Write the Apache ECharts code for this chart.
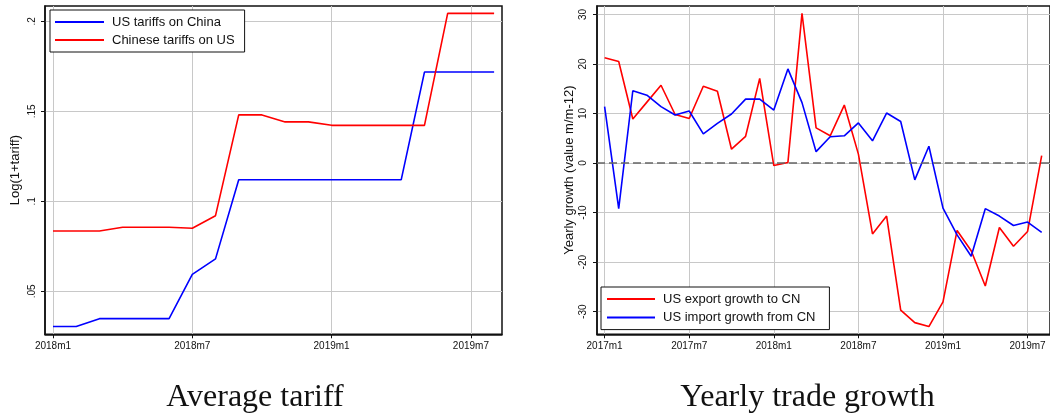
<!DOCTYPE html>
<html><head><meta charset="utf-8">
<script src="https://cdn.jsdelivr.net/npm/echarts@6/dist/echarts.min.js"></script>
<style>html,body{margin:0;padding:0;background:#fff}#c{width:1050px;height:419px}</style>
</head><body><div id="c"></div>
<script>
// ---------- data ----------
const tariffMonths = ['2018m1','2018m2','2018m3','2018m4','2018m5','2018m6','2018m7','2018m8','2018m9','2018m10','2018m11','2018m12','2019m1','2019m2','2019m3','2019m4','2019m5','2019m6','2019m7','2019m8'];
const usTariffsOnChina = [0.0304,0.0304,0.0348,0.0348,0.0348,0.0348,0.0594,0.068,0.112,0.112,0.112,0.112,0.112,0.112,0.112,0.112,0.1718,0.1718,0.1718,0.1718];
const chineseTariffsOnUS = [0.0835,0.0835,0.0835,0.0856,0.0856,0.0856,0.085,0.092,0.148,0.148,0.1441,0.1441,0.1422,0.1422,0.1422,0.1422,0.1422,0.2044,0.2044,0.2044];
const tariffXTicks = ['2018m1','2018m7','2019m1','2019m7'];
const tariffYTicks = [0.05,0.1,0.15,0.2];
const tariffYTickLabels = ['.05','.1','.15','.2'];

const tradeMonths = ['2017m1','2017m2','2017m3','2017m4','2017m5','2017m6','2017m7','2017m8','2017m9','2017m10','2017m11','2017m12','2018m1','2018m2','2018m3','2018m4','2018m5','2018m6','2018m7','2018m8','2018m9','2018m10','2018m11','2018m12','2019m1','2019m2','2019m3','2019m4','2019m5','2019m6','2019m7','2019m8'];
const usExportGrowth = [21.25,20.5,8.9,12.3,15.7,9.8,9.0,15.5,14.5,2.8,5.4,17.1,-0.5,0.1,30.2,7.1,5.5,11.7,1.8,-14.3,-10.7,-29.7,-32.2,-33.0,-28.0,-13.6,-17.7,-24.8,-13.0,-16.8,-13.8,1.5];
const usImportGrowth = [11.4,-9.2,14.6,13.7,11.4,9.7,10.5,5.9,8.0,9.9,12.9,12.9,10.7,19.0,12.2,2.3,5.3,5.5,8.1,4.5,10.1,8.4,-3.4,3.4,-9.1,-14.5,-18.8,-9.2,-10.7,-12.6,-11.9,-14.0];
const tradeXTicks = ['2017m1','2017m7','2018m1','2018m7','2019m1','2019m7'];
const tradeYTicks = [-30,-20,-10,0,10,20,30];
const tradeYTickLabels = ['-30','-20','-10','0','10','20','30'];

const titles = ['Average tariff','Yearly trade growth'];
// ---------- chart ----------
const SANS = 'Liberation Sans, Arial, sans-serif';
function xAxisFor(gi, months, ticks, min, max){
  const tv = ticks.map(t => months.indexOf(t));
  return {type:'value', gridIndex:gi, min, max,
    axisLine:{show:true, onZero:false, lineStyle:{color:'#111', width:1.5}},
    axisTick:{show:true, customValues:tv, length:4, lineStyle:{color:'#111'}},
    axisLabel:{customValues:tv, formatter:v => months[Math.round(v)], fontSize:10, color:'#111', margin:7, fontFamily:SANS},
    splitLine:{show:true, lineStyle:{color:'#c8c8c8', width:1}}};
}
function yAxisFor(gi, ticks, labels, min, max, name, gap, margin){
  return {type:'value', gridIndex:gi, min, max, name, nameLocation:'middle', nameGap:gap,
    nameTextStyle:{fontSize:13, color:'#111', fontFamily:SANS},
    axisLine:{show:true, onZero:false, lineStyle:{color:'#111', width:1.5}},
    axisTick:{show:true, customValues:ticks, length:4, lineStyle:{color:'#111'}},
    axisLabel:{customValues:ticks, rotate:90, formatter:v => labels[ticks.findIndex(t => Math.abs(t - v) < 1e-9)], fontSize:10, color:'#111', margin, fontFamily:SANS},
    splitLine:{show:true, lineStyle:{color:'#c8c8c8', width:1}}};
}
function lineSeries(name, xi, yi, months, vals, color, extra){
  return Object.assign({type:'line', name, xAxisIndex:xi, yAxisIndex:yi, symbol:'none',
    data: vals.map((v,i) => [i, v]), lineStyle:{color, width:1.6}, itemStyle:{color}}, extra || {});
}
const chart = echarts.init(document.getElementById('c'), null, {renderer:'canvas'});
chart.setOption({
  animation:false,
  backgroundColor:'#fff',
  grid:[
    {left:45, top:6, right:548, bottom:84.7, show:true, borderColor:'#111', borderWidth:1.5},
    {left:597, top:6, right:-5, bottom:84.7, show:true, borderColor:'#111', borderWidth:1.5}
  ],
  xAxis:[
    xAxisFor(0, tariffMonths, tariffXTicks, -0.3445, 19.34),
    xAxisFor(1, tradeMonths, tradeXTicks, -0.54, 31.59)
  ],
  yAxis:[
    yAxisFor(0, tariffYTicks, tariffYTickLabels, 0.0261, 0.2085, 'Log(1+tariff)', 23, 8),
    yAxisFor(1, tradeYTicks, tradeYTickLabels, -34.56, 31.7, 'Yearly growth (value m/m-12)', 21, 9)
  ],
  legend:[
    {data:['US tariffs on China','Chinese tariffs on US'], orient:'vertical', left:50, top:10, padding:[5.5,10,5.5,5], itemGap:5,
     itemWidth:49, itemHeight:2, icon:'rect', borderColor:'#111', borderWidth:1, backgroundColor:'#fff',
     textStyle:{fontSize:13, color:'#111', fontFamily:SANS, padding:[0,0,0,3]}},
    {data:['US export growth to CN','US import growth from CN'], orient:'vertical', left:601, top:287, padding:[5.5,14,5.5,6], itemGap:5.6,
     itemWidth:48, itemHeight:2, icon:'rect', borderColor:'#111', borderWidth:1, backgroundColor:'#fff',
     textStyle:{fontSize:13, color:'#111', fontFamily:SANS, padding:[0,0,0,3]}}
  ],
  series:[
    lineSeries('US tariffs on China', 0, 0, tariffMonths, usTariffsOnChina, '#0000ff'),
    lineSeries('Chinese tariffs on US', 0, 0, tariffMonths, chineseTariffsOnUS, '#ff0000'),
    lineSeries('US export growth to CN', 1, 1, tradeMonths, usExportGrowth, '#ff0000', {
      markLine:{silent:true, symbol:['none','none'], label:{show:false}, animation:false,
        lineStyle:{type:[8,4], color:'#666', width:1.5}, data:[{yAxis:0}]}}),
    lineSeries('US import growth from CN', 1, 1, tradeMonths, usImportGrowth, '#0000ff')
  ],
  graphic:[
    {type:'text', x:255, y:398, style:{text:titles[0], font:'32px "Liberation Serif", serif', fill:'#111', textAlign:'center', textVerticalAlign:'middle'}},
    {type:'text', x:807.5, y:398, style:{text:titles[1], font:'32px "Liberation Serif", serif', fill:'#111', textAlign:'center', textVerticalAlign:'middle'}}
  ]
});
</script></body></html>
